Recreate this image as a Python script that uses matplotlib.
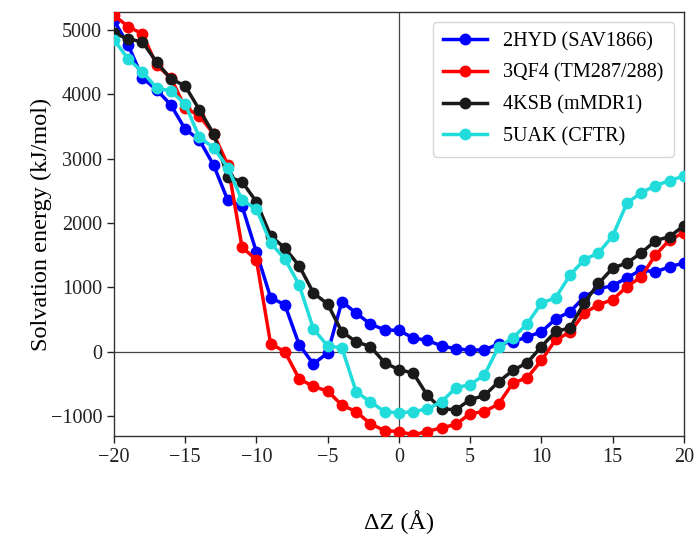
import matplotlib
matplotlib.use("Agg")
import matplotlib.pyplot as plt
import numpy as np

plt.rcParams['font.family'] = ['Liberation Serif', 'DejaVu Serif']
plt.rcParams['mathtext.fontset'] = 'stix'

dz = list(range(-20, 21))

hyd_2 = [5150, 4770, 4255, 4070, 3835, 3460, 3290, 2900, 2350, 2260,
         1550, 840, 730, 110, -190, -20, 780, 600, 430, 340,
         330, 215, 175, 90, 45, 25, 30, 120, 155, 230,
         310, 510, 620, 850, 980, 1025, 1150, 1270, 1240, 1320, 1380]
qf4_3 = [5230, 5050, 4940, 4455, 4255, 3790, 3665, 3385, 2900, 1620,
         1430, 125, 0, -420, -540, -610, -830, -930, -1120, -1225,
         -1240, -1290, -1240, -1180, -1130, -960, -930, -810, -485, -405,
         -135, 190, 300, 600, 730, 810, 1010, 1165, 1505, 1740, 1850]
ksb_4 = [4950, 4860, 4815, 4500, 4240, 4130, 3760, 3385, 2720, 2640,
         2330, 1800, 1610, 1335, 915, 740, 310, 155, 80, -170,
         -280, -330, -680, -890, -900, -745, -680, -465, -290, -170,
         80, 315, 370, 760, 1060, 1300, 1380, 1535, 1725, 1790, 1960]
uak_5 = [4850, 4550, 4350, 4100, 4050, 3850, 3330, 3170, 2860, 2350,
         2220, 1690, 1440, 1040, 355, 90, 60, -620, -780, -930,
         -950, -930, -890, -775, -560, -510, -360, 80, 215, 435,
         755, 840, 1190, 1430, 1535, 1800, 2310, 2470, 2580, 2660, 2730]

labels = ['2HYD (SAV1866)', '3QF4 (TM287/288)', '4KSB (mMDR1)', '5UAK (CFTR)']
colors = ['#0000ff', '#ff0000', '#1a1a1a', '#22dcdc']
xticks = [-20, -15, -10, -5, 0, 5, 10, 15, 20]
yticks = [-1000, 0, 1000, 2000, 3000, 4000, 5000]

fig = plt.figure(figsize=(6.94, 5.39), dpi=100)
ax = fig.add_axes([0.164, 0.191, 0.8216, 0.787])

ax.axhline(0, color='#444444', lw=0.9, zorder=1)
ax.axvline(0, color='#444444', lw=0.9, zorder=1)

for s, lab, c in zip([hyd_2, qf4_3, ksb_4, uak_5], labels, colors):
    ax.plot(dz, s, color=c, lw=2.5, marker='o', markersize=7.5, label=lab, zorder=3)

ax.set_xlim(-20, 20)
ax.set_ylim(-1310, 5280)
ax.set_xticks(xticks)
ax.set_yticks(yticks)
ax.tick_params(labelsize=14.5, length=5, width=1, colors='#222222')
for sp in ax.spines.values():
    sp.set_color('#333333')
    sp.set_linewidth(1)

ax.set_ylabel('Solvation energy (kJ/mol)', fontsize=17.5, labelpad=-1)
ax.set_xlabel('ΔZ (Å)', fontsize=17.5, labelpad=31)

leg = ax.legend(loc='upper right', fontsize=14.5, frameon=True, fancybox=True,
                borderaxespad=0.5, handlelength=2.2, labelspacing=0.62,
                borderpad=0.5)
leg.get_frame().set_edgecolor('#cccccc')

fig.savefig('out.png', dpi=100)
